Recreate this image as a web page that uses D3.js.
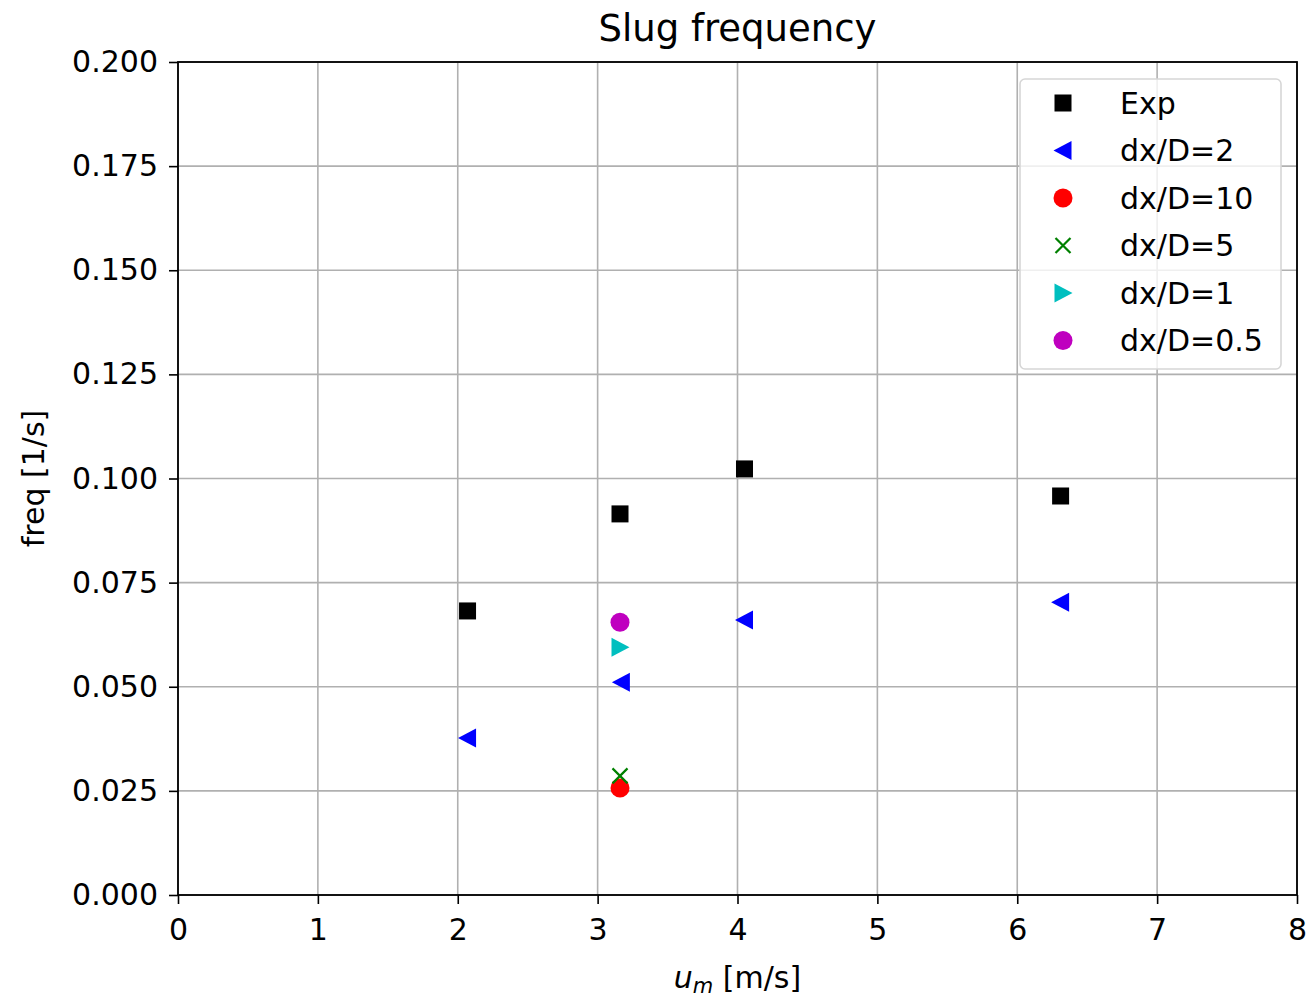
<!DOCTYPE html>
<html>
<head>
<meta charset="utf-8">
<script src="https://cdn.jsdelivr.net/npm/d3@7"></script>
<style>
  body { margin: 0; background: #fff; }
  svg { font-family: "DejaVu Sans", sans-serif; }
</style>
</head>
<body>
<svg id="chart" width="1309" height="997"></svg>
<script>
// data
var expX = [2.07, 3.16, 4.05, 6.31];
var expY = [0.0682, 0.0915, 0.1023, 0.0958];
var d2X = [2.07, 3.17, 4.05, 6.31];
var d2Y = [0.0377, 0.0511, 0.0660, 0.0703];
var d10X = [3.16];
var d10Y = [0.0257];
var d5X = [3.16];
var d5Y = [0.0286];
var d1X = [3.16];
var d1Y = [0.0595];
var d05X = [3.16];
var d05Y = [0.0655];
var xTicks = [0, 1, 2, 3, 4, 5, 6, 7, 8];
var yTicks = [0, 0.025, 0.05, 0.075, 0.1, 0.125, 0.15, 0.175, 0.2];

var series = [
  { name: "Exp", xs: expX, ys: expY, shape: "square", color: "#000000" },
  { name: "dx/D=2", xs: d2X, ys: d2Y, shape: "tri-left", color: "#0000ff" },
  { name: "dx/D=10", xs: d10X, ys: d10Y, shape: "circle", color: "#ff0000" },
  { name: "dx/D=5", xs: d5X, ys: d5Y, shape: "x", color: "#008000" },
  { name: "dx/D=1", xs: d1X, ys: d1Y, shape: "tri-right", color: "#00bfbf" },
  { name: "dx/D=0.5", xs: d05X, ys: d05Y, shape: "circle", color: "#bf00bf" }
];

var svg = d3.select("#chart");
var pLeft = 178, pRight = 1297, pTop = 62, pBottom = 895;
var fs = "30px";

var x = d3.scaleLinear().domain([0, 8]).range([pLeft, pRight]);
var y = d3.scaleLinear().domain([0, 0.2]).range([pBottom, pTop]);

// grid
svg.append("g").selectAll("line").data(xTicks).enter().append("line")
  .attr("x1", d => x(d)).attr("x2", d => x(d))
  .attr("y1", pTop).attr("y2", pBottom)
  .attr("stroke", "#b0b0b0").attr("stroke-width", 1.6);
svg.append("g").selectAll("line").data(yTicks).enter().append("line")
  .attr("y1", d => y(d)).attr("y2", d => y(d))
  .attr("x1", pLeft).attr("x2", pRight)
  .attr("stroke", "#b0b0b0").attr("stroke-width", 1.6);

// axes
var xAxis = d3.axisBottom(x).tickValues(xTicks).tickFormat(d3.format("d")).tickSize(9).tickPadding(15);
var yAxis = d3.axisLeft(y).tickValues(yTicks).tickFormat(d3.format(".3f")).tickSize(9).tickPadding(11);

var gx = svg.append("g").attr("transform", "translate(0," + pBottom + ")").call(xAxis);
var gy = svg.append("g").attr("transform", "translate(" + pLeft + ",0)").call(yAxis);
[gx, gy].forEach(function(g) {
  g.select(".domain").remove();
  g.selectAll(".tick line").attr("stroke", "#000").attr("stroke-width", 1.6);
  g.selectAll(".tick text").attr("fill", "#000").style("font-size", fs)
    .style("font-family", "DejaVu Sans");
});

// frame
svg.append("rect").attr("x", pLeft).attr("y", pTop)
  .attr("width", pRight - pLeft).attr("height", pBottom - pTop)
  .attr("fill", "none").attr("stroke", "#000").attr("stroke-width", 1.8);

// markers
var ms = 17;
function drawMarker(g, shape, color, cx, cy) {
  var h = ms / 2;
  if (shape === "square") {
    g.append("rect").attr("x", cx - h).attr("y", cy - h).attr("width", ms).attr("height", ms)
      .attr("fill", color);
  } else if (shape === "circle") {
    g.append("circle").attr("cx", cx).attr("cy", cy).attr("r", h + 1).attr("fill", color);
  } else if (shape === "tri-left") {
    g.append("path").attr("d", "M" + (cx - h - 1) + "," + cy + "L" + (cx + h) + "," + (cy - h - 1) + "L" + (cx + h) + "," + (cy + h + 1) + "Z")
      .attr("fill", color);
  } else if (shape === "tri-right") {
    g.append("path").attr("d", "M" + (cx + h + 1) + "," + cy + "L" + (cx - h) + "," + (cy - h - 1) + "L" + (cx - h) + "," + (cy + h + 1) + "Z")
      .attr("fill", color);
  } else if (shape === "x") {
    var k = h - 1;
    g.append("path").attr("d", "M" + (cx - k) + "," + (cy - k) + "L" + (cx + k) + "," + (cy + k) + "M" + (cx - k) + "," + (cy + k) + "L" + (cx + k) + "," + (cy - k))
      .attr("stroke", color).attr("stroke-width", 2.2).attr("fill", "none");
  }
}

var plot = svg.append("g");
series.forEach(function(s) {
  s.xs.forEach(function(v, i) {
    drawMarker(plot, s.shape, s.color, x(v), y(s.ys[i]));
  });
});

// legend
var leg = svg.append("g");
leg.append("rect").attr("x", 1020).attr("y", 79).attr("width", 261).attr("height", 290)
  .attr("rx", 5).attr("fill", "#fff").attr("fill-opacity", 0.8)
  .attr("stroke", "#d6d6d6").attr("stroke-width", 1.6);
series.forEach(function(s, i) {
  var ly = 103 + i * 47.5;
  drawMarker(leg, s.shape, s.color, 1063, ly);
  leg.append("text").attr("x", 1120).attr("y", ly).attr("dy", "0.36em")
    .style("font-size", fs).attr("fill", "#000").text(s.name);
});

// title and labels
svg.append("text").attr("x", (pLeft + pRight) / 2).attr("y", 41).attr("text-anchor", "middle")
  .style("font-size", "37px").attr("fill", "#000").text("Slug frequency");

svg.append("text").attr("transform", "translate(44," + ((pTop + pBottom) / 2) + ") rotate(-90)")
  .attr("text-anchor", "middle").style("font-size", fs).attr("fill", "#000").text("freq [1/s]");

var xl = svg.append("text").attr("x", (pLeft + pRight) / 2).attr("y", 988).attr("text-anchor", "middle")
  .style("font-size", fs).attr("fill", "#000");
xl.append("tspan").style("font-style", "italic").text("u");
xl.append("tspan").style("font-style", "italic").style("font-size", "21px").attr("dy", 5).text("m");
xl.append("tspan").attr("dy", -5).text(" [m/s]");
</script>
</body>
</html>
